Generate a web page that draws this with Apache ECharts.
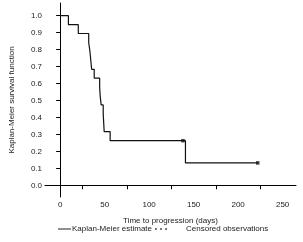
<!DOCTYPE html>
<html>
<head>
<meta charset="utf-8">
<script src="https://cdn.jsdelivr.net/npm/echarts@6/dist/echarts.min.js"></script>
<style>
  html, body { margin: 0; padding: 0; background: #fff; }
  #main { width: 303px; height: 242px; }
</style>
</head>
<body>
<div id="main"></div>
<script>
// 生存曲线数据 (Kaplan-Meier)
const times = [0, 9.3, 20.4, 32.1, 33.5, 35.4, 38.3, 44.4, 45, 46.1, 48.4, 49.5, 56.2, 140.8, 222];
const survival = [1.0, 0.947, 0.895, 0.842, 0.789, 0.684, 0.632, 0.579, 0.526, 0.474, 0.421, 0.316, 0.263, 0.132, 0.132];
// 删失观测
const censorTimes = [138, 222];
const censorSurv = [0.263, 0.132];
// 刻度
const xLabelValues = [0, 50, 100, 150, 200, 250];
const xTickValues = [25, 75, 125, 175, 225];
const yTickValues = [0, 0.1, 0.2, 0.3, 0.4, 0.5, 0.6, 0.7, 0.8, 0.9, 1.0];

const font = 'Liberation Sans, Arial, sans-serif';
const txt = '#222';

const myChart = echarts.init(document.getElementById('main'));
const option = {
  animation: false,
  grid: { left: 44, right: 7, top: 3, bottom: 45, containLabel: false },
  xAxis: {
    type: 'value',
    min: -17, max: 265,
    name: 'Time to progression (days)',
    nameLocation: 'middle',
    nameGap: 20,
    nameTextStyle: { fontFamily: font, fontSize: 8, color: txt },
    splitLine: { show: false },
    axisLine: { lineStyle: { color: '#000', width: 1 } },
    axisTick: { show: true, length: 4, customValues: xTickValues, lineStyle: { color: '#000' } },
    axisLabel: { customValues: xLabelValues, margin: 4, fontFamily: font, fontSize: 8, color: txt }
  },
  yAxis: {
    type: 'value',
    min: -0.069, max: 1.075,
    name: 'Kaplan-Meier survival function',
    nameLocation: 'middle',
    nameGap: 29,
    nameTextStyle: { fontFamily: font, fontSize: 8, color: txt },
    splitLine: { show: false },
    axisLine: { show: true, lineStyle: { color: '#000', width: 1 } },
    axisTick: { show: true, length: 4, customValues: yTickValues, lineStyle: { color: '#000' } },
    axisLabel: {
      customValues: yTickValues, margin: 3, fontFamily: font, fontSize: 8, color: txt,
      formatter: v => v.toFixed(1)
    }
  },
  legend: [{
    data: [{ name: 'Kaplan-Meier estimate', icon: 'path://M0,0 L14,0 L14,1 L0,1 Z' }],
    left: 58, top: 225, padding: 0,
    itemWidth: 13, itemHeight: 1,
    selectedMode: false,
    textStyle: { fontFamily: font, fontSize: 8, color: txt, padding: [0, 0, 0, -4] }
  }, {
    data: [{ name: 'Censored observations',
      icon: 'path://M1,0A1,1 0 1 1 1,2A1,1 0 1 1 1,0Z M6.5,0A1,1 0 1 1 6.5,2A1,1 0 1 1 6.5,0Z M12,0A1,1 0 1 1 12,2A1,1 0 1 1 12,0Z' }],
    left: 155, top: 225, padding: 0,
    itemWidth: 12, itemHeight: 2,
    selectedMode: false,
    textStyle: { fontFamily: font, fontSize: 8, color: txt, padding: [0, 0, 0, 14] }
  }],
  series: [{
    name: 'Kaplan-Meier estimate',
    type: 'line',
    step: 'end',
    data: times.map((t, i) => [t, survival[i]]),
    symbol: 'none',
    lineStyle: { color: '#111', width: 1.2 },
    itemStyle: { color: '#111' }
  }, {
    name: 'Censored observations',
    type: 'scatter',
    data: censorTimes.map((t, i) => [t, censorSurv[i]]),
    symbol: 'rect',
    symbolSize: 3.5,
    itemStyle: { color: '#111' }
  }]
};
myChart.setOption(option);
</script>
</body>
</html>
